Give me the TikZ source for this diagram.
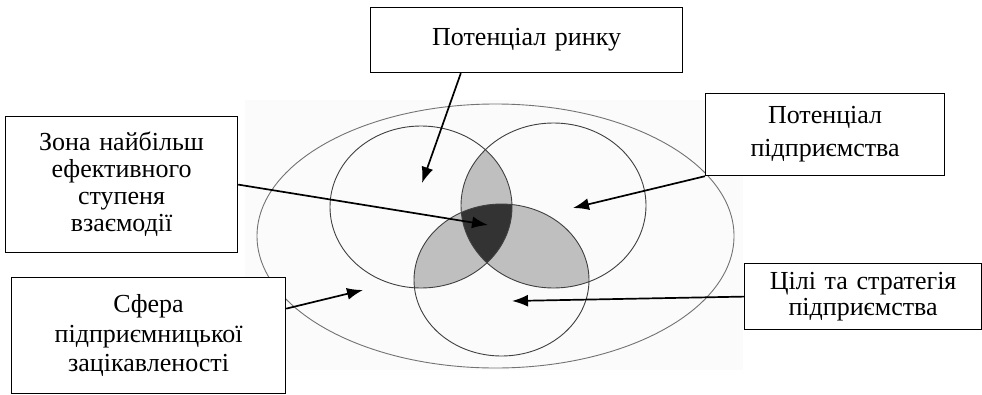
\documentclass[tikz,border=0pt]{standalone}
\usepackage{fontspec}
\setmainfont{Liberation Serif}
\usetikzlibrary{arrows.meta,calc}
\begin{document}
\begin{tikzpicture}[x=1pt,y=-1pt,
  box/.style={draw, fill=white, line width=1.2pt, align=center, anchor=north west, inner sep=0pt},
  conn/.style={line width=1.7pt, -{Latex[length=16pt,width=12pt]}},
  ring/.style={draw=black!75, line width=0.9pt},
  lens/.style={fill=black!25},
  core/.style={fill=black!80}]
\useasboundingbox (0,0) rectangle (982,394);
\fill[black!1.5] (245,100) rectangle (743,370);
% pairwise intersections
\begin{scope}
  \clip (421,207) ellipse [x radius=91pt, y radius=81pt];
  \fill[lens] (553.5,205.5) ellipse [x radius=92.5pt, y radius=82.5pt];
  \fill[lens] (501.5,280) ellipse [x radius=87.5pt, y radius=76pt];
\end{scope}
\begin{scope}
  \clip (553.5,205.5) ellipse [x radius=92.5pt, y radius=82.5pt];
  \fill[lens] (501.5,280) ellipse [x radius=87.5pt, y radius=76pt];
\end{scope}
% triple intersection
\begin{scope}
  \clip (421,207) ellipse [x radius=91pt, y radius=81pt];
  \clip (553.5,205.5) ellipse [x radius=92.5pt, y radius=82.5pt];
  \fill[core] (501.5,280) ellipse [x radius=87.5pt, y radius=76pt];
\end{scope}
% outlines
\draw[draw=black!55, line width=0.9pt] (495.5,236) ellipse [x radius=238.5pt, y radius=132pt];
\draw[ring] (421,207) ellipse [x radius=91pt, y radius=81pt];
\draw[ring] (553.5,205.5) ellipse [x radius=92.5pt, y radius=82.5pt];
\draw[ring] (501.5,280) ellipse [x radius=87.5pt, y radius=76pt];
% boxes
\node[box, text width=312pt, minimum height=65pt, font=\fontsize{26}{27}\selectfont] (rynok) at (370,7) {Потенціал ринку};
\node[box, text width=232pt, minimum height=136pt, font=\fontsize{26}{27}\selectfont] (zona) at (5,116) {Зона найбільш\\ефективного\\ступеня\\взаємодії};
\node[box, text width=239pt, minimum height=82pt, font=\fontsize{26}{33}\selectfont] (pidpr) at (705,93) {Потенціал\\підприємства};
\node[box, text width=274pt, minimum height=116pt, font=\fontsize{26}{29.5}\selectfont] (sfera) at (11,277) {Сфера\\підприємницької\\зацікавленості};
\node[box, text width=237pt, minimum height=66pt, font=\fontsize{26}{25.5}\selectfont] (tsili) at (744,263) {Цілі та стратегія\\підприємства};
% targets
\coordinate (tR) at (422,183);
\coordinate (tZ) at (488,225);
\coordinate (tP) at (573,208);
\coordinate (tC) at (512,301);
\coordinate (tS) at (363,290);
% connectors
\draw[conn] ($(rynok.south west)!0.29!(rynok.south east)$) -- (tR);
\draw[conn] (zona.east) -- (tZ);
\draw[conn] (pidpr.south west) -- (tP);
\draw[conn] (tsili.west) -- (tC);
\draw[conn] ($(sfera.north east)!0.27!(sfera.south east)$) -- (tS);
\end{tikzpicture}
\end{document}
